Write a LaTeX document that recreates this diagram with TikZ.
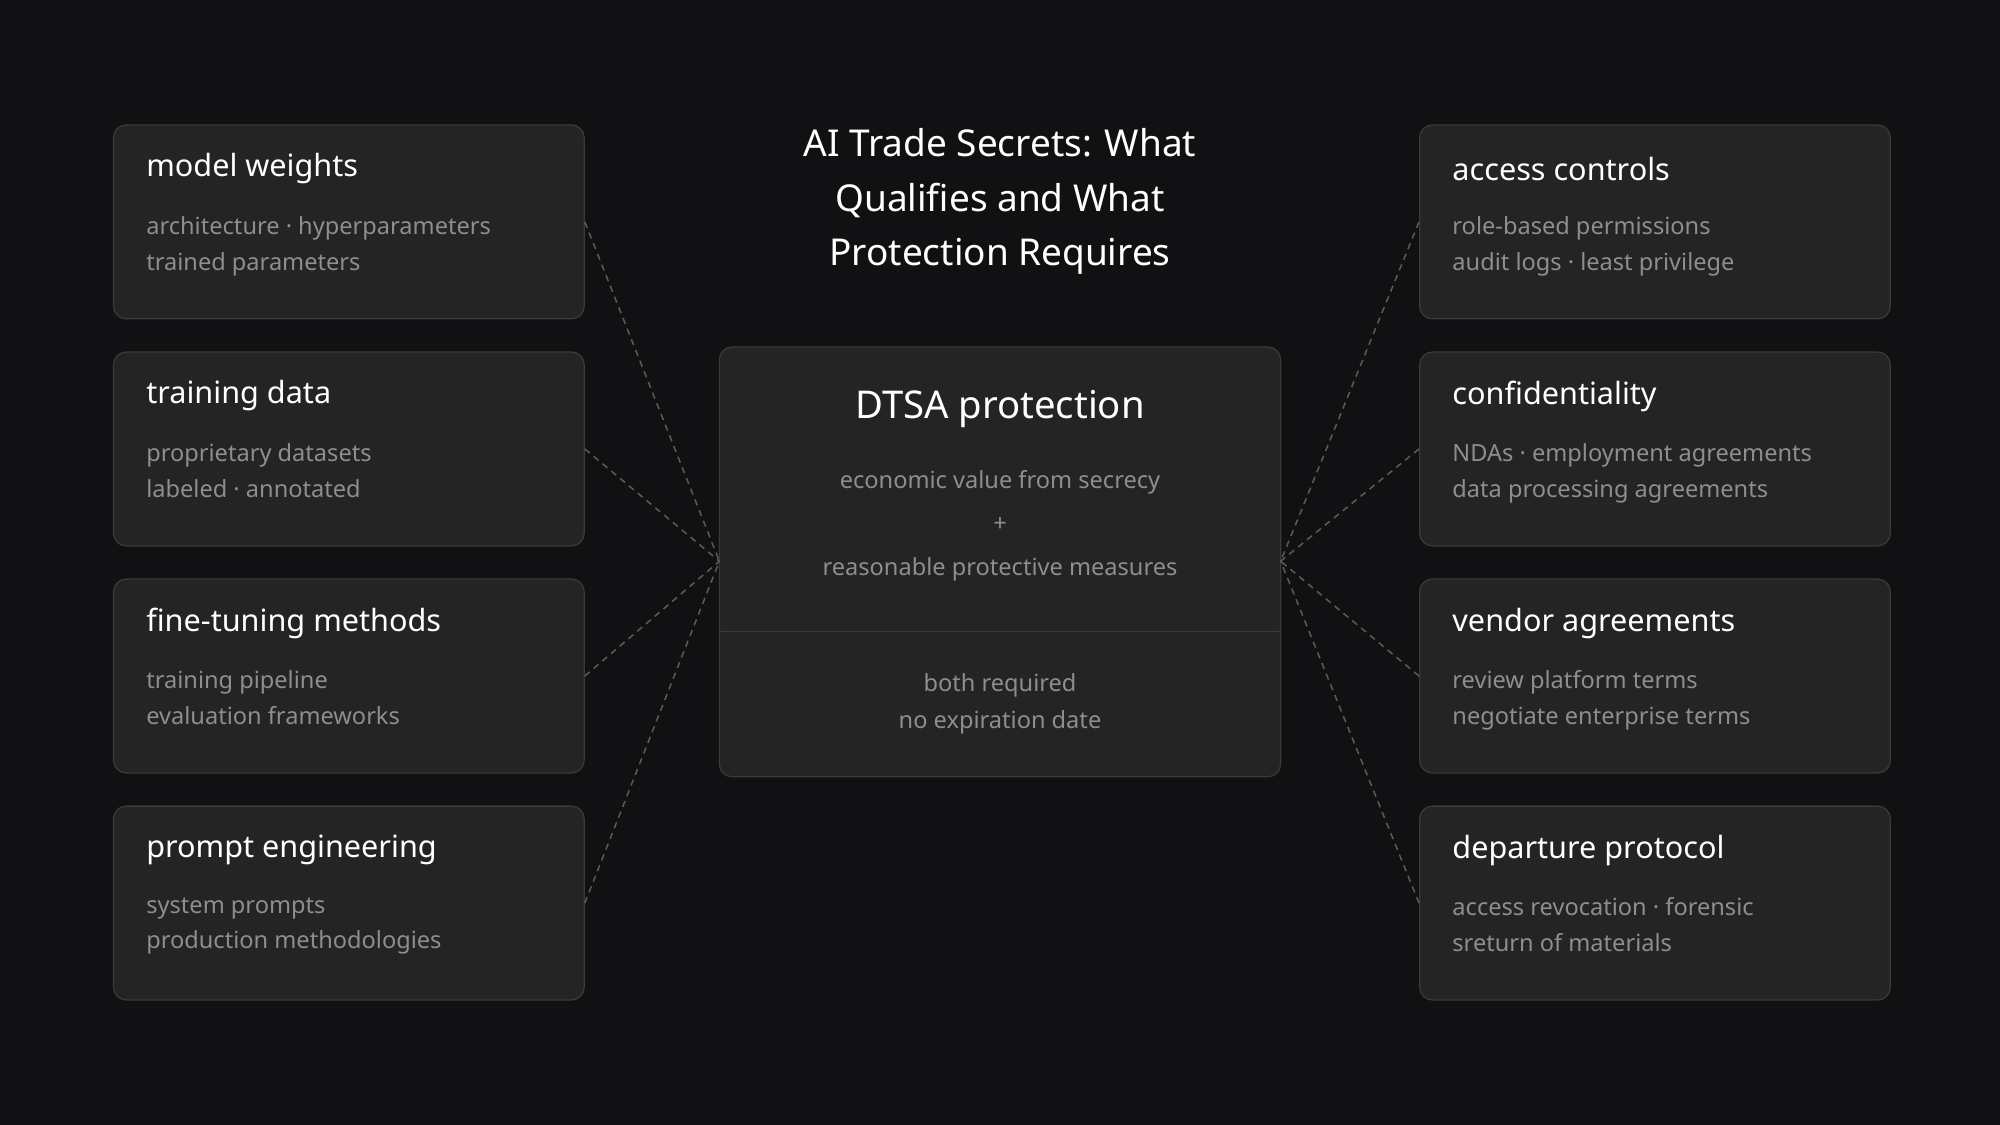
\documentclass[tikz,border=0pt]{standalone}
\usepackage{fontspec}
\setmainfont{Noto Sans}
\definecolor{bg}{HTML}{111113}
\definecolor{boxf}{HTML}{242424}
\definecolor{boxd}{HTML}{3A3A3A}
\definecolor{sub}{HTML}{8E8E8E}
\definecolor{ln}{HTML}{5A5A5A}
\tikzset{
  box/.style={draw=boxd, line width=1pt, fill=boxf, rounded corners=10pt, minimum width=369pt, minimum height=152pt, inner sep=0pt},
  ttl/.style={anchor=west, text=white, font=\fontsize{24}{28}\selectfont, inner sep=0pt},
  sbt/.style={anchor=west, text=sub, font=\fontsize{18.5}{28}\selectfont, inner sep=0pt, align=left},
  conn/.style={draw=ln, line width=1.2pt, dash pattern=on 5pt off 4pt}
}
\newcommand{\mybox}[6]{%
  \node[box] (#1) at (#2,#3) {};
  \node[ttl] (#1t) at ([xshift=26pt,yshift=-35pt]#1.north west) {#4};
  \node[sbt,anchor=north west] (#1s) at ([xshift=26pt,yshift=-72pt]#1.north west) {#5\\#6};
}
\begin{document}
\begin{tikzpicture}[x=1pt,y=1pt]
\fill[bg] (0,0) rectangle (1568,882);
\useasboundingbox (0,0) rectangle (1568,882);
\node[text=white, align=center, font=\fontsize{29}{43}\selectfont] (title) at (784,724) {AI Trade Secrets: What\\Qualifies and What\\Protection Requires};
\mybox{l1}{273.5}{708}{model weights}{architecture · hyperparameters}{trained parameters}
\mybox{l2}{273.5}{530}{training data}{proprietary datasets}{labeled · annotated}
\mybox{l3}{273.5}{352}{fine-tuning methods}{training pipeline}{evaluation frameworks}
\mybox{l4}{273.5}{174}{prompt engineering}{system prompts}{production methodologies}
\mybox{r1}{1297.5}{708}{access controls}{role-based permissions}{audit logs · least privilege}
\mybox{r2}{1297.5}{530}{confidentiality}{NDAs · employment agreements}{data processing agreements}
\mybox{r3}{1297.5}{352}{vendor agreements}{review platform terms}{negotiate enterprise terms}
\mybox{r4}{1297.5}{174}{departure protocol}{access revocation · forensic}{sreturn of materials}
\node[box, minimum width=440pt, minimum height=337pt] (c) at (784,441.5) {};
\draw[draw=boxd, line width=1pt] (564,387) coordinate (dl) -- (1004,387) coordinate (dr);
\node[text=white, font=\fontsize{30}{36}\selectfont] (ct) at (784,561) {DTSA protection};
\node[text=sub, align=center, font=\fontsize{18.5}{34}\selectfont] (cs) at (784,470) {economic value from secrecy\\+\\reasonable protective measures};
\node[text=sub, align=center, font=\fontsize{18.5}{29}\selectfont] (cb) at (784,330) {both required\\no expiration date};
\coordinate (cl) at (564,442);
\coordinate (cr) at (1004,442);
\foreach \n in {l1,l2,l3,l4} \draw[conn] (\n.east) -- (cl);
\foreach \n in {r1,r2,r3,r4} \draw[conn] (\n.west) -- (cr);
\end{tikzpicture}
\end{document}
